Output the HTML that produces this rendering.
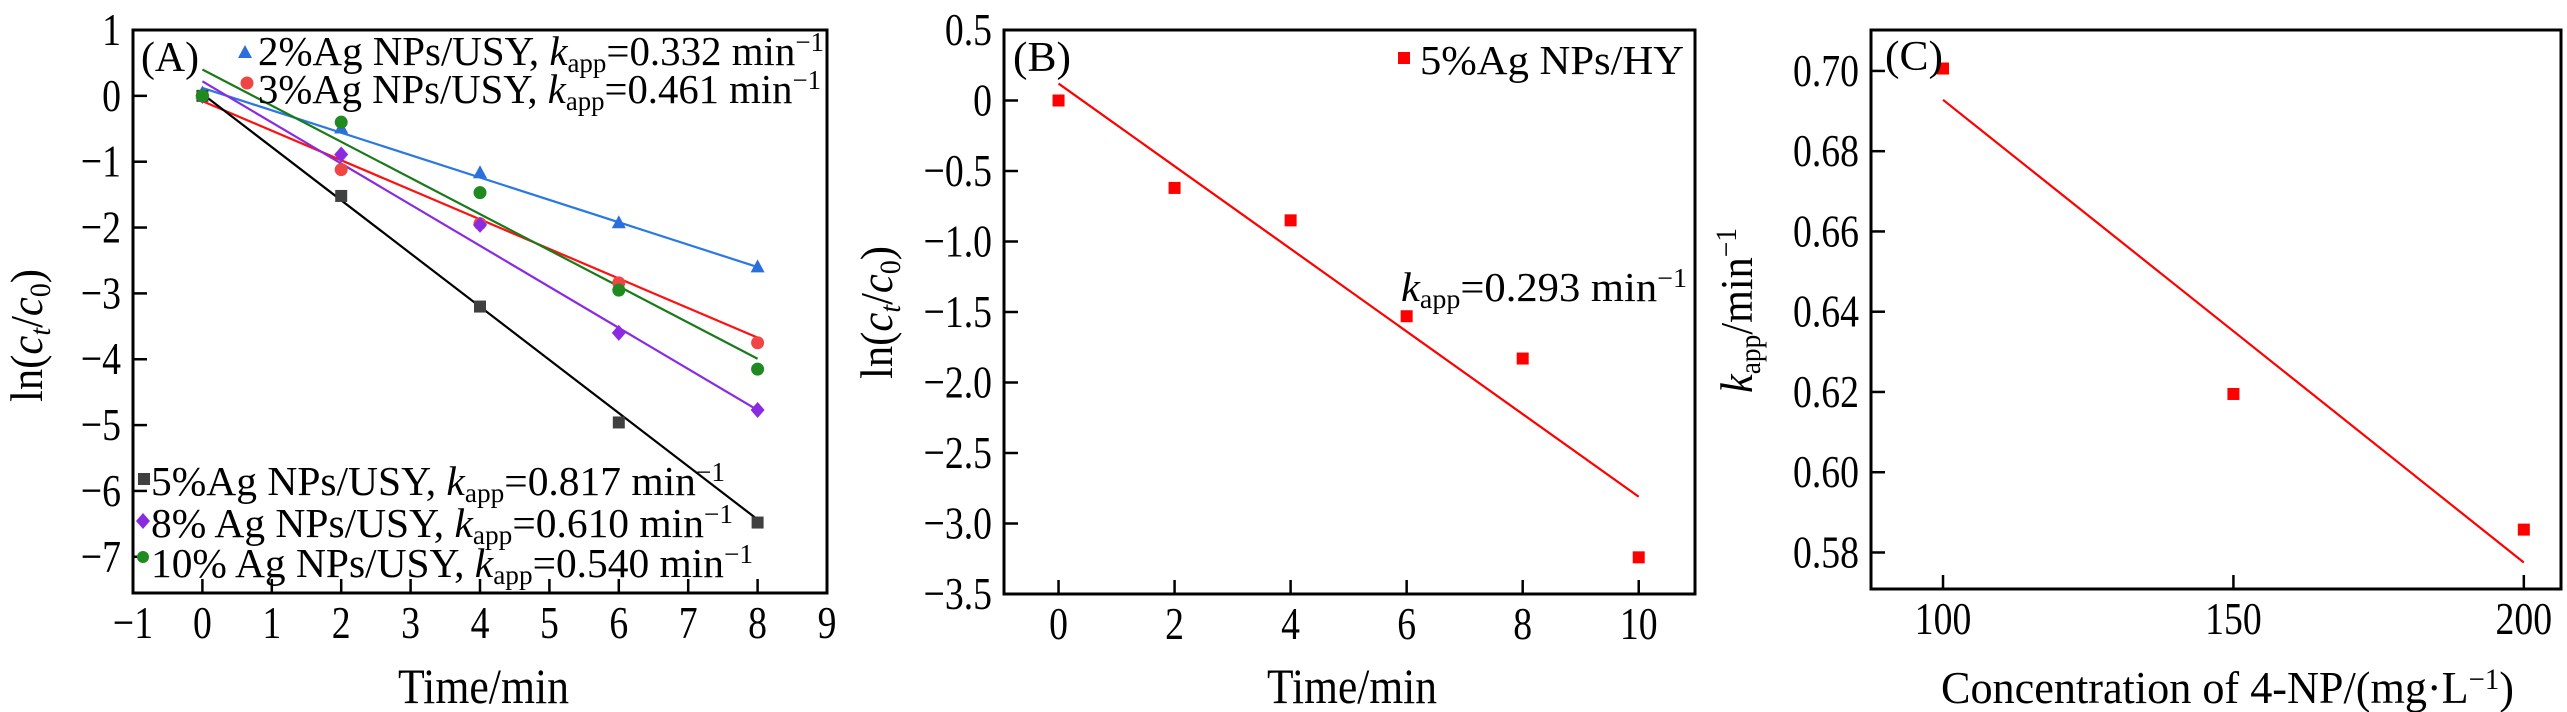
<!DOCTYPE html>
<html><head><meta charset="utf-8">
<style>
html,body{margin:0;padding:0;background:#fff;}
svg{display:block;font-family:"Liberation Serif","Times New Roman",serif;}
svg text{font-family:"Liberation Serif","Times New Roman",serif;}
</style></head>
<body>
<svg id="chart" width="2567" height="712" viewBox="0 0 2567 712" xmlns="http://www.w3.org/2000/svg" font-family="Liberation Serif, serif">
<rect x="0" y="0" width="2567" height="712" fill="#fff"/>
<g id="gA"></g>
<g id="gB"></g>
<g id="gC"></g>

<!-- Panel A static text -->
<text x="141" y="71" font-size="42" textLength="58" lengthAdjust="spacingAndGlyphs">(A)</text>
<text x="398" y="703" font-size="50" textLength="171" lengthAdjust="spacingAndGlyphs">Time/min</text>
<text transform="translate(42,402) rotate(-90)" font-size="46" textLength="133" lengthAdjust="spacingAndGlyphs">ln(<tspan font-style="italic">c</tspan><tspan font-style="italic" font-size="30" dy="8">t</tspan><tspan dy="-8">/</tspan><tspan font-style="italic">c</tspan><tspan font-size="30" dy="8">0</tspan><tspan dy="-8">)</tspan></text>

<g>
<polygon points="245,45 252,58 238,58" fill="#2a6fdc"/>
<text x="258" y="65" font-size="41" textLength="566" lengthAdjust="spacingAndGlyphs">2%Ag NPs/USY, <tspan font-style="italic">k</tspan><tspan font-size="27" dy="7">app</tspan><tspan dy="-7">=0.332 min</tspan><tspan font-size="27" dy="-14">−1</tspan></text>
<circle cx="247" cy="83" r="6.5" fill="#f04545"/>
<text x="258" y="103" font-size="41" textLength="563" lengthAdjust="spacingAndGlyphs">3%Ag NPs/USY, <tspan font-style="italic">k</tspan><tspan font-size="27" dy="7">app</tspan><tspan dy="-7">=0.461 min</tspan><tspan font-size="27" dy="-14">−1</tspan></text>
</g>
<g>
<rect x="138" y="473" width="12" height="12" fill="#404040"/>
<text x="151" y="495" font-size="41" textLength="574" lengthAdjust="spacingAndGlyphs">5%Ag NPs/USY, <tspan font-style="italic">k</tspan><tspan font-size="27" dy="7">app</tspan><tspan dy="-7">=0.817 min</tspan><tspan font-size="27" dy="-14">−1</tspan></text>
<polygon points="143,513 150,521 143,529 136,521" fill="#8a2be2"/>
<text x="151" y="537" font-size="41" textLength="582" lengthAdjust="spacingAndGlyphs">8% Ag NPs/USY, <tspan font-style="italic">k</tspan><tspan font-size="27" dy="7">app</tspan><tspan dy="-7">=0.610 min</tspan><tspan font-size="27" dy="-14">−1</tspan></text>
<circle cx="143" cy="557" r="6" fill="#1f8a1f"/>
<text x="151" y="577" font-size="41" textLength="602" lengthAdjust="spacingAndGlyphs">10% Ag NPs/USY, <tspan font-style="italic">k</tspan><tspan font-size="27" dy="7">app</tspan><tspan dy="-7">=0.540 min</tspan><tspan font-size="27" dy="-14">−1</tspan></text>
</g>

<!-- Panel B static text -->
<text x="1013" y="71" font-size="42" textLength="58" lengthAdjust="spacingAndGlyphs">(B)</text>
<text x="1267" y="703" font-size="50" textLength="170" lengthAdjust="spacingAndGlyphs">Time/min</text>
<text transform="translate(892,379) rotate(-90)" font-size="46" textLength="133" lengthAdjust="spacingAndGlyphs">ln(<tspan font-style="italic">c</tspan><tspan font-style="italic" font-size="30" dy="8">t</tspan><tspan dy="-8">/</tspan><tspan font-style="italic">c</tspan><tspan font-size="30" dy="8">0</tspan><tspan dy="-8">)</tspan></text>
<rect x="1398" y="52" width="12" height="12" fill="#ff0000"/>
<text x="1420" y="74" font-size="41" textLength="264" lengthAdjust="spacingAndGlyphs">5%Ag NPs/HY</text>
<text x="1401" y="301" font-size="41" textLength="286" lengthAdjust="spacingAndGlyphs"><tspan font-style="italic">k</tspan><tspan font-size="27" dy="7">app</tspan><tspan dy="-7">=0.293 min</tspan><tspan font-size="27" dy="-14">−1</tspan></text>

<!-- Panel C static text -->
<text x="1885" y="70" font-size="42" textLength="58" lengthAdjust="spacingAndGlyphs">(C)</text>
<text x="1941" y="703" font-size="46" textLength="573" lengthAdjust="spacingAndGlyphs">Concentration of 4-NP/(mg·L<tspan font-size="30" dy="-14">−1</tspan><tspan dy="14">)</tspan></text>
<text transform="translate(1752,393) rotate(-90)" font-size="46" textLength="165" lengthAdjust="spacingAndGlyphs"><tspan font-style="italic">k</tspan><tspan font-size="30" dy="8">app</tspan><tspan dy="-8">/min</tspan><tspan font-size="30" dy="-16">−1</tspan></text>
</svg>
<script>
// ---------- Panel A data ----------
const timesA = [0, 2, 4, 6, 8];
const seriesNamesA = ["2pct", "3pct", "5pct", "8pct", "10pct"];
const values2pct = [0.05, -0.48, -1.16, -1.92, -2.59];
const values3pct = [0, -1.12, -1.94, -2.84, -3.75];
const values5pct = [0, -1.52, -3.2, -4.96, -6.48];
const values8pct = [0, -0.89, -1.96, -3.6, -4.77];
const values10pct = [0, -0.4, -1.47, -2.95, -4.15];
const fitInterceptA = [0.12, -0.08, 0.03, 0.22, 0.4];
const fitSlopeA = [-0.34, -0.449, -0.808, -0.624, -0.549];
const xTicksA = [-1, 0, 1, 2, 3, 4, 5, 6, 7, 8, 9];
const yTicksA = [1, 0, -1, -2, -3, -4, -5, -6, -7];
// ---------- Panel B data ----------
const timesB = [0, 2, 4, 6, 8, 10];
const valuesB = [0, -0.62, -0.85, -1.53, -1.83, -3.24];
const fitB = [0.12, -0.293];
const xTicksB = [0, 2, 4, 6, 8, 10];
const yTicksB = [0.5, 0, -0.5, -1.0, -1.5, -2.0, -2.5, -3.0, -3.5];
// ---------- Panel C data ----------
const concC = [100, 150, 200];
const kC = [0.7006, 0.6195, 0.5857];
const fitC = [0.8081, -0.001153];
const xTicksC = [100, 150, 200];
const yTicksC = [0.70, 0.68, 0.66, 0.64, 0.62, 0.60, 0.58];

const NS = "http://www.w3.org/2000/svg";
function mk(parent, tag, attrs) {
  const e = document.createElementNS(NS, tag);
  for (const k in attrs) e.setAttribute(k, attrs[k]);
  parent.appendChild(e);
  return e;
}
function fmt(v, d) { if (v === 0) return "0"; const s = v.toFixed(d); return s.replace("-", "−"); }

function axes(g, box, xs, ys, xt, yt, xd, yd, prefix) {
  const frame = mk(g, "rect", {x: box.l, y: box.t, width: box.r - box.l, height: box.b - box.t, fill: "none", stroke: "#000", "stroke-width": 3});
  
  
  xt.forEach(v => {
    const x = xs(v);
    const t = mk(g, "line", {x1: x, x2: x, y1: box.b, y2: box.b - 14, stroke: "#000", "stroke-width": 2.5});
    
    
    const l = mk(g, "text", {transform: "translate(" + x + "," + (box.b + 45) + ") scale(0.82,1)", "font-size": 46, "font-family": "Liberation Serif, serif", "text-anchor": "middle"});
    l.textContent = fmt(v, xd);
    
    
  });
  yt.forEach(v => {
    const y = ys(v);
    const t = mk(g, "line", {x1: box.l, x2: box.l + 14, y1: y, y2: y, stroke: "#000", "stroke-width": 2.5});
    
    
    const l = mk(g, "text", {transform: "translate(" + (box.l - 12) + "," + (y + 15) + ") scale(0.82,1)", "font-size": 46, "font-family": "Liberation Serif, serif", "text-anchor": "end"});
    l.textContent = fmt(v, yd);
    
    
  });
}
function marker(g, shape, x, y, color) {
  let e;
  if (shape === "tri") e = mk(g, "polygon", {points: `${x},${y-7} ${x+7},${y+6} ${x-7},${y+6}`, fill: color});
  else if (shape === "circ") e = mk(g, "circle", {cx: x, cy: y, r: 6.5, fill: color});
  else if (shape === "dia") e = mk(g, "polygon", {points: `${x},${y-8} ${x+7},${y} ${x},${y+8} ${x-7},${y}`, fill: color});
  else e = mk(g, "rect", {x: x - 6, y: y - 6, width: 12, height: 12, fill: color});
  return e;
}

// ---------- Panel A ----------
(function () {
  const g = document.getElementById("gA");
  const box = {l: 133, r: 827, t: 30, b: 593};
  const xMin = -1, xMax = 9, yMin = -7.55, yMax = 1;
  const xs = v => box.l + (v - xMin) / (xMax - xMin) * (box.r - box.l);
  const ys = v => box.b - (v - yMin) / (yMax - yMin) * (box.b - box.t);
  axes(g, box, xs, ys, xTicksA, yTicksA, 0, 0, "panel-a");
  const vals = [values2pct, values3pct, values5pct, values8pct, values10pct];
  const colors = ["#2a6fdc", "#f04545", "#404040", "#8a2be2", "#1f8a1f"];
  const lineColors = ["#2a78e4", "#ff1010", "#000000", "#8a2be2", "#1a7a1a"];
  const shapes = ["tri", "circ", "sq", "dia", "circ"];
  vals.forEach((arr, i) => {
    const x0 = timesA[0], x1 = timesA[timesA.length - 1];
    const ln = mk(g, "line", {x1: xs(x0), y1: ys(fitInterceptA[i] + fitSlopeA[i] * x0), x2: xs(x1), y2: ys(fitInterceptA[i] + fitSlopeA[i] * x1), stroke: lineColors[i], "stroke-width": 2.2});
    
    
  });
  vals.forEach((arr, i) => {
    arr.forEach((v, j) => {
      const m = marker(g, shapes[i], xs(timesA[j]), ys(v), colors[i]);
      
      
    });
  });
})();

// ---------- Panel B ----------
(function () {
  const g = document.getElementById("gB");
  const box = {l: 1004, r: 1695, t: 30, b: 594};
  const xMin = -0.94, xMax = 10.97, yMin = -3.5, yMax = 0.5;
  const xs = v => box.l + (v - xMin) / (xMax - xMin) * (box.r - box.l);
  const ys = v => box.b - (v - yMin) / (yMax - yMin) * (box.b - box.t);
  axes(g, box, xs, ys, xTicksB, yTicksB, 0, 1, "panel-b");
  const x0 = timesB[0], x1 = timesB[timesB.length - 1];
  const ln = mk(g, "line", {x1: xs(x0), y1: ys(fitB[0] + fitB[1] * x0), x2: xs(x1), y2: ys(fitB[0] + fitB[1] * x1), stroke: "#ff0000", "stroke-width": 2.2});
  
  
  valuesB.forEach((v, j) => {
    const m = marker(g, "sq", xs(timesB[j]), ys(v), "#ff0000");
    
    
  });
})();

// ---------- Panel C ----------
(function () {
  const g = document.getElementById("gC");
  const box = {l: 1871, r: 2561, t: 30, b: 589};
  const xMin = 87.6, xMax = 206.4, yMin = 0.5709, yMax = 0.7102;
  const xs = v => box.l + (v - xMin) / (xMax - xMin) * (box.r - box.l);
  const ys = v => box.b - (v - yMin) / (yMax - yMin) * (box.b - box.t);
  axes(g, box, xs, ys, xTicksC, yTicksC, 0, 2, "panel-c");
  const x0 = concC[0], x1 = concC[concC.length - 1];
  const ln = mk(g, "line", {x1: xs(x0), y1: ys(fitC[0] + fitC[1] * x0), x2: xs(x1), y2: ys(fitC[0] + fitC[1] * x1), stroke: "#ff0000", "stroke-width": 2.2});
  
  
  kC.forEach((v, j) => {
    const m = marker(g, "sq", xs(concC[j]), ys(v), "#ff0000");
    
    
  });
})();
</script>
</body></html>
